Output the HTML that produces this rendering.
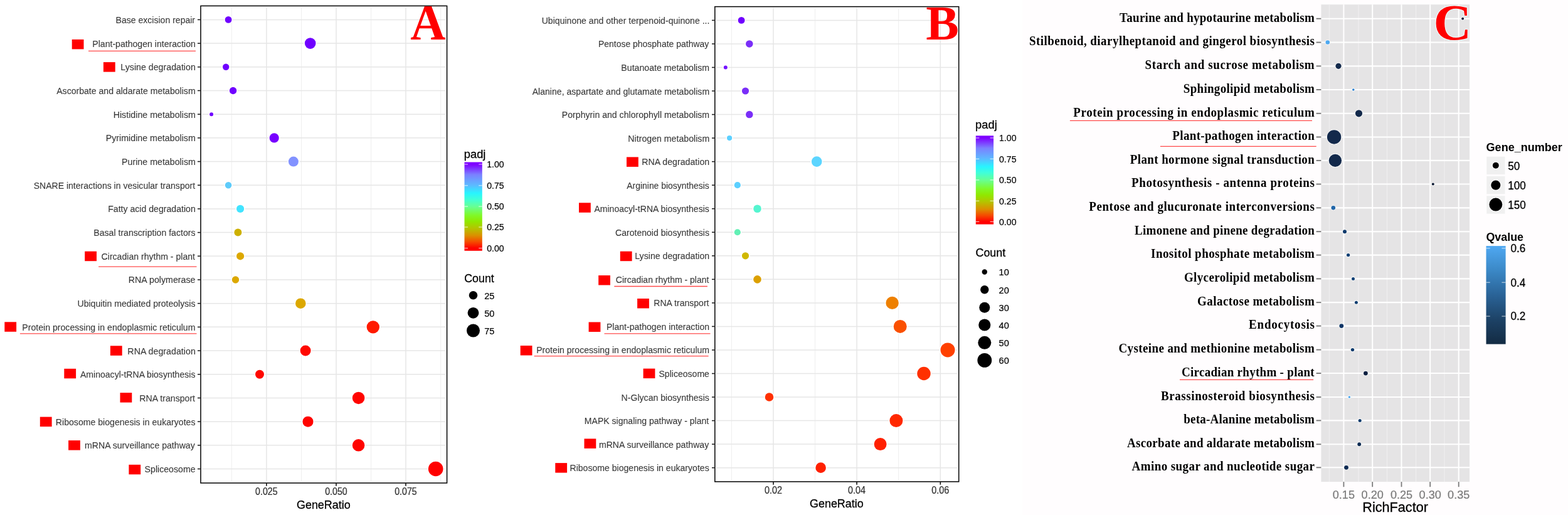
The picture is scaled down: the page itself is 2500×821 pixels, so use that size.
<!DOCTYPE html>
<html lang="en"><head><meta charset="utf-8"><title>KEGG enrichment dot plots</title>
<style>html,body{margin:0;padding:0;background:#fff;}body{width:2500px;height:821px;overflow:hidden;}svg{display:block;font-family:"Liberation Sans",sans-serif;}</style>
</head><body>
<svg width="2500" height="821" viewBox="0 0 2500 821">
<defs>
<linearGradient id="rb" x1="0" y1="1" x2="0" y2="0">
<stop offset="0.0" stop-color="#FF0000"/>
<stop offset="0.03" stop-color="#FF0000"/>
<stop offset="0.1" stop-color="#F54A00"/>
<stop offset="0.17" stop-color="#DC8E00"/>
<stop offset="0.25" stop-color="#B6C200"/>
<stop offset="0.33" stop-color="#90E800"/>
<stop offset="0.4" stop-color="#80F828"/>
<stop offset="0.5" stop-color="#66FF95"/>
<stop offset="0.58" stop-color="#40FFD8"/>
<stop offset="0.65" stop-color="#28F4FF"/>
<stop offset="0.74" stop-color="#5CBAFF"/>
<stop offset="0.86" stop-color="#7B80FF"/>
<stop offset="0.975" stop-color="#7F00FF"/>
<stop offset="1.0" stop-color="#7F00FF"/>
</linearGradient>
<linearGradient id="qv" x1="0" y1="1" x2="0" y2="0">
<stop offset="0" stop-color="#132B43"/>
<stop offset="0.25" stop-color="#1D4266"/>
<stop offset="0.5" stop-color="#2A6397"/>
<stop offset="0.75" stop-color="#3B88C6"/>
<stop offset="1" stop-color="#4FA8F2"/>
</linearGradient>
</defs>
<rect x="0" y="0" width="2500" height="821" fill="#ffffff"/>
<rect x="1630.5" y="0" width="869.5" height="821" fill="#fffdfe"/>
<g>
<rect x="320" y="9.4" width="392.6" height="760.6" fill="#fff"/>
<line x1="369.4" x2="369.4" y1="11.4" y2="768" stroke="#ececec" stroke-width="0.9"/>
<line x1="480.5" x2="480.5" y1="11.4" y2="768" stroke="#ececec" stroke-width="0.9"/>
<line x1="591.6" x2="591.6" y1="11.4" y2="768" stroke="#ececec" stroke-width="0.9"/>
<line x1="702.7" x2="702.7" y1="11.4" y2="768" stroke="#ececec" stroke-width="0.9"/>
<line x1="424.9" x2="424.9" y1="11.4" y2="768" stroke="#e6e6e6" stroke-width="1.5"/>
<line x1="536" x2="536" y1="11.4" y2="768" stroke="#e6e6e6" stroke-width="1.5"/>
<line x1="647" x2="647" y1="11.4" y2="768" stroke="#e6e6e6" stroke-width="1.5"/>
<line x1="322.3" x2="709.7" y1="31.4" y2="31.4" stroke="#e6e6e6" stroke-width="1.5"/>
<line x1="322.3" x2="709.7" y1="69.09" y2="69.09" stroke="#e6e6e6" stroke-width="1.5"/>
<line x1="322.3" x2="709.7" y1="106.78" y2="106.78" stroke="#e6e6e6" stroke-width="1.5"/>
<line x1="322.3" x2="709.7" y1="144.47" y2="144.47" stroke="#e6e6e6" stroke-width="1.5"/>
<line x1="322.3" x2="709.7" y1="182.16" y2="182.16" stroke="#e6e6e6" stroke-width="1.5"/>
<line x1="322.3" x2="709.7" y1="219.85" y2="219.85" stroke="#e6e6e6" stroke-width="1.5"/>
<line x1="322.3" x2="709.7" y1="257.54" y2="257.54" stroke="#e6e6e6" stroke-width="1.5"/>
<line x1="322.3" x2="709.7" y1="295.23" y2="295.23" stroke="#e6e6e6" stroke-width="1.5"/>
<line x1="322.3" x2="709.7" y1="332.92" y2="332.92" stroke="#e6e6e6" stroke-width="1.5"/>
<line x1="322.3" x2="709.7" y1="370.61" y2="370.61" stroke="#e6e6e6" stroke-width="1.5"/>
<line x1="322.3" x2="709.7" y1="408.3" y2="408.3" stroke="#e6e6e6" stroke-width="1.5"/>
<line x1="322.3" x2="709.7" y1="445.99" y2="445.99" stroke="#e6e6e6" stroke-width="1.5"/>
<line x1="322.3" x2="709.7" y1="483.68" y2="483.68" stroke="#e6e6e6" stroke-width="1.5"/>
<line x1="322.3" x2="709.7" y1="521.37" y2="521.37" stroke="#e6e6e6" stroke-width="1.5"/>
<line x1="322.3" x2="709.7" y1="559.06" y2="559.06" stroke="#e6e6e6" stroke-width="1.5"/>
<line x1="322.3" x2="709.7" y1="596.75" y2="596.75" stroke="#e6e6e6" stroke-width="1.5"/>
<line x1="322.3" x2="709.7" y1="634.44" y2="634.44" stroke="#e6e6e6" stroke-width="1.5"/>
<line x1="322.3" x2="709.7" y1="672.13" y2="672.13" stroke="#e6e6e6" stroke-width="1.5"/>
<line x1="322.3" x2="709.7" y1="709.82" y2="709.82" stroke="#e6e6e6" stroke-width="1.5"/>
<line x1="322.3" x2="709.7" y1="747.51" y2="747.51" stroke="#e6e6e6" stroke-width="1.5"/>
<circle cx="364.1" cy="31.4" r="5.4" fill="#7000FF" stroke="#fff" stroke-width="3.4" paint-order="stroke"/>
<circle cx="494.7" cy="69.09" r="8.8" fill="#7000FF" stroke="#fff" stroke-width="3.4" paint-order="stroke"/>
<circle cx="360.2" cy="106.78" r="5.2" fill="#7000FF" stroke="#fff" stroke-width="3.4" paint-order="stroke"/>
<circle cx="371.6" cy="144.47" r="5.7" fill="#7000FF" stroke="#fff" stroke-width="3.4" paint-order="stroke"/>
<circle cx="337.1" cy="182.16" r="3" fill="#7000FF" stroke="#fff" stroke-width="3.4" paint-order="stroke"/>
<circle cx="437.2" cy="219.85" r="7.6" fill="#7800FF" stroke="#fff" stroke-width="3.4" paint-order="stroke"/>
<circle cx="467.9" cy="257.54" r="8" fill="#8292FF" stroke="#fff" stroke-width="3.4" paint-order="stroke"/>
<circle cx="364.1" cy="295.23" r="5.3" fill="#5ECBFA" stroke="#fff" stroke-width="3.4" paint-order="stroke"/>
<circle cx="383.1" cy="332.92" r="6.1" fill="#42E4FF" stroke="#fff" stroke-width="3.4" paint-order="stroke"/>
<circle cx="379.4" cy="370.61" r="6" fill="#CDB000" stroke="#fff" stroke-width="3.4" paint-order="stroke"/>
<circle cx="383.1" cy="408.3" r="6.1" fill="#DCA800" stroke="#fff" stroke-width="3.4" paint-order="stroke"/>
<circle cx="375.5" cy="445.99" r="5.7" fill="#DCA800" stroke="#fff" stroke-width="3.4" paint-order="stroke"/>
<circle cx="479.3" cy="483.68" r="8.3" fill="#DCA800" stroke="#fff" stroke-width="3.4" paint-order="stroke"/>
<circle cx="594.8" cy="521.37" r="10.2" fill="#FF1A00" stroke="#fff" stroke-width="3.4" paint-order="stroke"/>
<circle cx="487.1" cy="559.06" r="8.5" fill="#FF0800" stroke="#fff" stroke-width="3.4" paint-order="stroke"/>
<circle cx="414" cy="596.75" r="7" fill="#FF0800" stroke="#fff" stroke-width="3.4" paint-order="stroke"/>
<circle cx="571.6" cy="634.44" r="9.8" fill="#FF0400" stroke="#fff" stroke-width="3.4" paint-order="stroke"/>
<circle cx="491" cy="672.13" r="8.5" fill="#FF0400" stroke="#fff" stroke-width="3.4" paint-order="stroke"/>
<circle cx="571.6" cy="709.82" r="9.8" fill="#FF0400" stroke="#fff" stroke-width="3.4" paint-order="stroke"/>
<circle cx="694.7" cy="747.51" r="11.8" fill="#FF0000" stroke="#fff" stroke-width="3.4" paint-order="stroke"/>
<rect x="320" y="9.4" width="392.6" height="760.6" fill="none" stroke="#000" stroke-width="1.5"/>
<line x1="315" x2="320" y1="31.4" y2="31.4" stroke="#1a1a1a" stroke-width="1.5"/>
<text transform="translate(184.57 36.9) scale(0.9252 1)" font-size="15.2" fill="#383838" stroke="#383838" stroke-width="0.1">Base excision repair</text>
<line x1="315" x2="320" y1="69.09" y2="69.09" stroke="#1a1a1a" stroke-width="1.5"/>
<text transform="translate(147.27 74.59) scale(0.9278 1)" font-size="15.2" fill="#383838" stroke="#383838" stroke-width="0.1">Plant-pathogen interaction</text>
<line x1="315" x2="320" y1="106.78" y2="106.78" stroke="#1a1a1a" stroke-width="1.5"/>
<text transform="translate(192.36 112.28) scale(0.9347 1)" font-size="15.2" fill="#383838" stroke="#383838" stroke-width="0.1">Lysine degradation</text>
<line x1="315" x2="320" y1="144.47" y2="144.47" stroke="#1a1a1a" stroke-width="1.5"/>
<text transform="translate(90.2 149.97) scale(0.9270 1)" font-size="15.2" fill="#383838" stroke="#383838" stroke-width="0.1">Ascorbate and aldarate metabolism</text>
<line x1="315" x2="320" y1="182.16" y2="182.16" stroke="#1a1a1a" stroke-width="1.5"/>
<text transform="translate(180.66 187.66) scale(0.9361 1)" font-size="15.2" fill="#383838" stroke="#383838" stroke-width="0.1">Histidine metabolism</text>
<line x1="315" x2="320" y1="219.85" y2="219.85" stroke="#1a1a1a" stroke-width="1.5"/>
<text transform="translate(168.76 225.35) scale(0.9358 1)" font-size="15.2" fill="#383838" stroke="#383838" stroke-width="0.1">Pyrimidine metabolism</text>
<line x1="315" x2="320" y1="257.54" y2="257.54" stroke="#1a1a1a" stroke-width="1.5"/>
<text transform="translate(194.06 263.04) scale(0.9359 1)" font-size="15.2" fill="#383838" stroke="#383838" stroke-width="0.1">Purine metabolism</text>
<line x1="315" x2="320" y1="295.23" y2="295.23" stroke="#1a1a1a" stroke-width="1.5"/>
<text transform="translate(53.7 300.73) scale(0.9235 1)" font-size="15.2" fill="#383838" stroke="#383838" stroke-width="0.1">SNARE interactions in vesicular transport</text>
<line x1="315" x2="320" y1="332.92" y2="332.92" stroke="#1a1a1a" stroke-width="1.5"/>
<text transform="translate(172.17 338.42) scale(0.9291 1)" font-size="15.2" fill="#383838" stroke="#383838" stroke-width="0.1">Fatty acid degradation</text>
<line x1="315" x2="320" y1="370.61" y2="370.61" stroke="#1a1a1a" stroke-width="1.5"/>
<text transform="translate(149.27 376.11) scale(0.9285 1)" font-size="15.2" fill="#383838" stroke="#383838" stroke-width="0.1">Basal transcription factors</text>
<line x1="315" x2="320" y1="408.3" y2="408.3" stroke="#1a1a1a" stroke-width="1.5"/>
<text transform="translate(161.6 413.8) scale(0.9264 1)" font-size="15.2" fill="#383838" stroke="#383838" stroke-width="0.1">Circadian rhythm - plant</text>
<line x1="315" x2="320" y1="445.99" y2="445.99" stroke="#1a1a1a" stroke-width="1.5"/>
<text transform="translate(204.76 451.49) scale(0.9369 1)" font-size="15.2" fill="#383838" stroke="#383838" stroke-width="0.1">RNA polymerase</text>
<line x1="315" x2="320" y1="483.68" y2="483.68" stroke="#1a1a1a" stroke-width="1.5"/>
<text transform="translate(123.47 489.18) scale(0.9276 1)" font-size="15.2" fill="#383838" stroke="#383838" stroke-width="0.1">Ubiquitin mediated proteolysis</text>
<line x1="315" x2="320" y1="521.37" y2="521.37" stroke="#1a1a1a" stroke-width="1.5"/>
<text transform="translate(35.27 526.87) scale(0.9303 1)" font-size="15.2" fill="#383838" stroke="#383838" stroke-width="0.1">Protein processing in endoplasmic reticulum</text>
<line x1="315" x2="320" y1="559.06" y2="559.06" stroke="#1a1a1a" stroke-width="1.5"/>
<text transform="translate(203.36 564.56) scale(0.9380 1)" font-size="15.2" fill="#383838" stroke="#383838" stroke-width="0.1">RNA degradation</text>
<line x1="315" x2="320" y1="596.75" y2="596.75" stroke="#1a1a1a" stroke-width="1.5"/>
<text transform="translate(128 602.25) scale(0.9247 1)" font-size="15.2" fill="#383838" stroke="#383838" stroke-width="0.1">Aminoacyl-tRNA biosynthesis</text>
<line x1="315" x2="320" y1="634.44" y2="634.44" stroke="#1a1a1a" stroke-width="1.5"/>
<text transform="translate(222.37 639.94) scale(0.9300 1)" font-size="15.2" fill="#383838" stroke="#383838" stroke-width="0.1">RNA transport</text>
<line x1="315" x2="320" y1="672.13" y2="672.13" stroke="#1a1a1a" stroke-width="1.5"/>
<text transform="translate(88.87 677.63) scale(0.9279 1)" font-size="15.2" fill="#383838" stroke="#383838" stroke-width="0.1">Ribosome biogenesis in eukaryotes</text>
<line x1="315" x2="320" y1="709.82" y2="709.82" stroke="#1a1a1a" stroke-width="1.5"/>
<text transform="translate(135.01 715.32) scale(0.9300 1)" font-size="15.2" fill="#383838" stroke="#383838" stroke-width="0.1">mRNA surveillance pathway</text>
<line x1="315" x2="320" y1="747.51" y2="747.51" stroke="#1a1a1a" stroke-width="1.5"/>
<text transform="translate(230.59 753.01) scale(0.9313 1)" font-size="15.2" fill="#383838" stroke="#383838" stroke-width="0.1">Spliceosome</text>
<line x1="424.9" x2="424.9" y1="770" y2="774.8" stroke="#1a1a1a" stroke-width="1.7"/>
<text transform="translate(407.08 789.4) scale(0.9043 1)" font-size="15.7" fill="#333" stroke="#333" stroke-width="0.25">0.025</text>
<line x1="536" x2="536" y1="770" y2="774.8" stroke="#1a1a1a" stroke-width="1.7"/>
<text transform="translate(518.18 789.4) scale(0.9043 1)" font-size="15.7" fill="#333" stroke="#333" stroke-width="0.25">0.050</text>
<line x1="647" x2="647" y1="770" y2="774.8" stroke="#1a1a1a" stroke-width="1.7"/>
<text transform="translate(629.18 789.4) scale(0.9043 1)" font-size="15.7" fill="#333" stroke="#333" stroke-width="0.25">0.075</text>
<text transform="translate(472.9 811.1) scale(0.9834 1)" font-size="18.3" fill="#000" stroke="#000" stroke-width="0.3">GeneRatio</text>
<rect x="114.7" y="62.9" width="18.8" height="15.5" fill="#ff0000"/>
<rect x="164.9" y="99.1" width="18.8" height="15.5" fill="#ff0000"/>
<rect x="135.2" y="400.7" width="18.8" height="15.5" fill="#ff0000"/>
<rect x="7.3" y="513.3" width="18.8" height="15.5" fill="#ff0000"/>
<rect x="175.9" y="551.3" width="18.8" height="15.5" fill="#ff0000"/>
<rect x="102.3" y="587.8" width="18.8" height="15.5" fill="#ff0000"/>
<rect x="191.5" y="626.1" width="18.8" height="15.5" fill="#ff0000"/>
<rect x="63.8" y="664.6" width="18.8" height="15.5" fill="#ff0000"/>
<rect x="109.1" y="702.1" width="18.8" height="15.5" fill="#ff0000"/>
<rect x="205.4" y="740.8" width="18.8" height="15.5" fill="#ff0000"/>
<line x1="141" x2="312" y1="81.4" y2="81.4" stroke="#ff4a4a" stroke-width="1.3"/>
<line x1="157.1" x2="313.5" y1="425.1" y2="425.1" stroke="#ff4a4a" stroke-width="1.3"/>
<line x1="31.9" x2="313.5" y1="531.8" y2="531.8" stroke="#ff4a4a" stroke-width="1.3"/>
<text transform="translate(654.22 62.6) scale(0.9609 1)" font-size="81.2" font-family="'Liberation Serif', serif" font-weight="bold" fill="#ff0000">A</text>
</g>
<text transform="translate(739.8 251.6) scale(0.9534 1)" font-size="19.2" fill="#000" stroke="#000" stroke-width="0.3">padj</text>
<rect x="740.5" y="258.5" width="28.3" height="141.3" fill="url(#rb)"/>
<line x1="740.5" x2="746" y1="261.9" y2="261.9" stroke="#fff" stroke-opacity="0.75" stroke-width="1.1"/>
<line x1="763.3" x2="768.8" y1="261.9" y2="261.9" stroke="#fff" stroke-opacity="0.75" stroke-width="1.1"/>
<text transform="translate(776.2 267.2) scale(0.9620 1)" font-size="14.7" fill="#000" stroke="#000" stroke-width="0.2">1.00</text>
<line x1="740.5" x2="746" y1="295.8" y2="295.8" stroke="#fff" stroke-opacity="0.75" stroke-width="1.1"/>
<line x1="763.3" x2="768.8" y1="295.8" y2="295.8" stroke="#fff" stroke-opacity="0.75" stroke-width="1.1"/>
<text transform="translate(776.2 301.1) scale(0.9620 1)" font-size="14.7" fill="#000" stroke="#000" stroke-width="0.2">0.75</text>
<line x1="740.5" x2="746" y1="329.1" y2="329.1" stroke="#fff" stroke-opacity="0.75" stroke-width="1.1"/>
<line x1="763.3" x2="768.8" y1="329.1" y2="329.1" stroke="#fff" stroke-opacity="0.75" stroke-width="1.1"/>
<text transform="translate(776.2 334.4) scale(0.9620 1)" font-size="14.7" fill="#000" stroke="#000" stroke-width="0.2">0.50</text>
<line x1="740.5" x2="746" y1="362" y2="362" stroke="#fff" stroke-opacity="0.75" stroke-width="1.1"/>
<line x1="763.3" x2="768.8" y1="362" y2="362" stroke="#fff" stroke-opacity="0.75" stroke-width="1.1"/>
<text transform="translate(776.2 367.3) scale(0.9620 1)" font-size="14.7" fill="#000" stroke="#000" stroke-width="0.2">0.25</text>
<line x1="740.5" x2="746" y1="395.6" y2="395.6" stroke="#fff" stroke-opacity="0.75" stroke-width="1.1"/>
<line x1="763.3" x2="768.8" y1="395.6" y2="395.6" stroke="#fff" stroke-opacity="0.75" stroke-width="1.1"/>
<text transform="translate(776.2 400.9) scale(0.9620 1)" font-size="14.7" fill="#000" stroke="#000" stroke-width="0.2">0.00</text>
<text transform="translate(740.21 449.8) scale(0.9299 1)" font-size="19.2" fill="#000" stroke="#000" stroke-width="0.3">Count</text>
<circle cx="754.5" cy="470.7" r="6.8" fill="#000"/>
<text transform="translate(772.2 476.5) scale(0.9920 1)" font-size="14.7" fill="#000" stroke="#000" stroke-width="0.2">25</text>
<circle cx="754.5" cy="498.8" r="8.9" fill="#000"/>
<text transform="translate(772.2 504.6) scale(0.9920 1)" font-size="14.7" fill="#000" stroke="#000" stroke-width="0.2">50</text>
<circle cx="754.5" cy="527" r="10.5" fill="#000"/>
<text transform="translate(772.2 532.8) scale(0.9920 1)" font-size="14.7" fill="#000" stroke="#000" stroke-width="0.2">75</text>
<g>
<rect x="1139.8" y="10.6" width="388.9" height="757.3" fill="#fff"/>
<line x1="1166.5" x2="1166.5" y1="12.6" y2="765.9" stroke="#ececec" stroke-width="0.9"/>
<line x1="1299.5" x2="1299.5" y1="12.6" y2="765.9" stroke="#ececec" stroke-width="0.9"/>
<line x1="1432.6" x2="1432.6" y1="12.6" y2="765.9" stroke="#ececec" stroke-width="0.9"/>
<line x1="1233" x2="1233" y1="12.6" y2="765.9" stroke="#e6e6e6" stroke-width="1.5"/>
<line x1="1366.1" x2="1366.1" y1="12.6" y2="765.9" stroke="#e6e6e6" stroke-width="1.5"/>
<line x1="1499.3" x2="1499.3" y1="12.6" y2="765.9" stroke="#e6e6e6" stroke-width="1.5"/>
<line x1="1142.1" x2="1525.8" y1="32.4" y2="32.4" stroke="#e6e6e6" stroke-width="1.5"/>
<line x1="1142.1" x2="1525.8" y1="69.94" y2="69.94" stroke="#e6e6e6" stroke-width="1.5"/>
<line x1="1142.1" x2="1525.8" y1="107.48" y2="107.48" stroke="#e6e6e6" stroke-width="1.5"/>
<line x1="1142.1" x2="1525.8" y1="145.02" y2="145.02" stroke="#e6e6e6" stroke-width="1.5"/>
<line x1="1142.1" x2="1525.8" y1="182.56" y2="182.56" stroke="#e6e6e6" stroke-width="1.5"/>
<line x1="1142.1" x2="1525.8" y1="220.1" y2="220.1" stroke="#e6e6e6" stroke-width="1.5"/>
<line x1="1142.1" x2="1525.8" y1="257.64" y2="257.64" stroke="#e6e6e6" stroke-width="1.5"/>
<line x1="1142.1" x2="1525.8" y1="295.18" y2="295.18" stroke="#e6e6e6" stroke-width="1.5"/>
<line x1="1142.1" x2="1525.8" y1="332.72" y2="332.72" stroke="#e6e6e6" stroke-width="1.5"/>
<line x1="1142.1" x2="1525.8" y1="370.26" y2="370.26" stroke="#e6e6e6" stroke-width="1.5"/>
<line x1="1142.1" x2="1525.8" y1="407.8" y2="407.8" stroke="#e6e6e6" stroke-width="1.5"/>
<line x1="1142.1" x2="1525.8" y1="445.34" y2="445.34" stroke="#e6e6e6" stroke-width="1.5"/>
<line x1="1142.1" x2="1525.8" y1="482.88" y2="482.88" stroke="#e6e6e6" stroke-width="1.5"/>
<line x1="1142.1" x2="1525.8" y1="520.42" y2="520.42" stroke="#e6e6e6" stroke-width="1.5"/>
<line x1="1142.1" x2="1525.8" y1="557.96" y2="557.96" stroke="#e6e6e6" stroke-width="1.5"/>
<line x1="1142.1" x2="1525.8" y1="595.5" y2="595.5" stroke="#e6e6e6" stroke-width="1.5"/>
<line x1="1142.1" x2="1525.8" y1="633.04" y2="633.04" stroke="#e6e6e6" stroke-width="1.5"/>
<line x1="1142.1" x2="1525.8" y1="670.58" y2="670.58" stroke="#e6e6e6" stroke-width="1.5"/>
<line x1="1142.1" x2="1525.8" y1="708.12" y2="708.12" stroke="#e6e6e6" stroke-width="1.5"/>
<line x1="1142.1" x2="1525.8" y1="745.66" y2="745.66" stroke="#e6e6e6" stroke-width="1.5"/>
<circle cx="1182.1" cy="32.4" r="5.4" fill="#7000FF" stroke="#fff" stroke-width="3.4" paint-order="stroke"/>
<circle cx="1194.8" cy="69.94" r="5.8" fill="#7A2EF8" stroke="#fff" stroke-width="3.4" paint-order="stroke"/>
<circle cx="1156.8" cy="107.48" r="3" fill="#7414FF" stroke="#fff" stroke-width="3.4" paint-order="stroke"/>
<circle cx="1188.5" cy="145.02" r="5.6" fill="#7A2EF8" stroke="#fff" stroke-width="3.4" paint-order="stroke"/>
<circle cx="1194.8" cy="182.56" r="5.8" fill="#7A2EF8" stroke="#fff" stroke-width="3.4" paint-order="stroke"/>
<circle cx="1163.1" cy="220.1" r="4.1" fill="#5CD0FF" stroke="#fff" stroke-width="3.4" paint-order="stroke"/>
<circle cx="1302.2" cy="257.64" r="8.3" fill="#5CD5FF" stroke="#fff" stroke-width="3.4" paint-order="stroke"/>
<circle cx="1175.8" cy="295.18" r="5.1" fill="#5CD0FF" stroke="#fff" stroke-width="3.4" paint-order="stroke"/>
<circle cx="1207.5" cy="332.72" r="6.3" fill="#55F5D0" stroke="#fff" stroke-width="3.4" paint-order="stroke"/>
<circle cx="1175.8" cy="370.26" r="5.1" fill="#62F0B5" stroke="#fff" stroke-width="3.4" paint-order="stroke"/>
<circle cx="1188.5" cy="407.8" r="5.6" fill="#D0B800" stroke="#fff" stroke-width="3.4" paint-order="stroke"/>
<circle cx="1207.5" cy="445.34" r="6.3" fill="#DCA000" stroke="#fff" stroke-width="3.4" paint-order="stroke"/>
<circle cx="1422.6" cy="482.88" r="10.2" fill="#EE8000" stroke="#fff" stroke-width="3.4" paint-order="stroke"/>
<circle cx="1435.2" cy="520.42" r="10.5" fill="#FA5000" stroke="#fff" stroke-width="3.4" paint-order="stroke"/>
<circle cx="1511" cy="557.96" r="11.5" fill="#FF4000" stroke="#fff" stroke-width="3.4" paint-order="stroke"/>
<circle cx="1473" cy="595.5" r="10.7" fill="#FF3000" stroke="#fff" stroke-width="3.4" paint-order="stroke"/>
<circle cx="1226.5" cy="633.04" r="6.8" fill="#FF3000" stroke="#fff" stroke-width="3.4" paint-order="stroke"/>
<circle cx="1428.9" cy="670.58" r="10.5" fill="#FF2800" stroke="#fff" stroke-width="3.4" paint-order="stroke"/>
<circle cx="1403.6" cy="708.12" r="10" fill="#FF2000" stroke="#fff" stroke-width="3.4" paint-order="stroke"/>
<circle cx="1308.6" cy="745.66" r="8.3" fill="#FF2000" stroke="#fff" stroke-width="3.4" paint-order="stroke"/>
<rect x="1139.8" y="10.6" width="388.9" height="757.3" fill="none" stroke="#000" stroke-width="1.5"/>
<line x1="1135" x2="1139.8" y1="32.4" y2="32.4" stroke="#1a1a1a" stroke-width="1.5"/>
<text transform="translate(863.67 37.9) scale(0.9275 1)" font-size="15.2" fill="#383838" stroke="#383838" stroke-width="0.1">Ubiquinone and other terpenoid-quinone ...</text>
<line x1="1135" x2="1139.8" y1="69.94" y2="69.94" stroke="#1a1a1a" stroke-width="1.5"/>
<text transform="translate(953.88 75.44) scale(0.9202 1)" font-size="15.2" fill="#383838" stroke="#383838" stroke-width="0.1">Pentose phosphate pathway</text>
<line x1="1135" x2="1139.8" y1="107.48" y2="107.48" stroke="#1a1a1a" stroke-width="1.5"/>
<text transform="translate(990.37 112.98) scale(0.9315 1)" font-size="15.2" fill="#383838" stroke="#383838" stroke-width="0.1">Butanoate metabolism</text>
<line x1="1135" x2="1139.8" y1="145.02" y2="145.02" stroke="#1a1a1a" stroke-width="1.5"/>
<text transform="translate(848.7 150.52) scale(0.9266 1)" font-size="15.2" fill="#383838" stroke="#383838" stroke-width="0.1">Alanine, aspartate and glutamate metabolism</text>
<line x1="1135" x2="1139.8" y1="182.56" y2="182.56" stroke="#1a1a1a" stroke-width="1.5"/>
<text transform="translate(895.87 188.06) scale(0.9289 1)" font-size="15.2" fill="#383838" stroke="#383838" stroke-width="0.1">Porphyrin and chlorophyll metabolism</text>
<line x1="1135" x2="1139.8" y1="220.1" y2="220.1" stroke="#1a1a1a" stroke-width="1.5"/>
<text transform="translate(1001.37 225.6) scale(0.9318 1)" font-size="15.2" fill="#383838" stroke="#383838" stroke-width="0.1">Nitrogen metabolism</text>
<line x1="1135" x2="1139.8" y1="257.64" y2="257.64" stroke="#1a1a1a" stroke-width="1.5"/>
<text transform="translate(1023.26 263.14) scale(0.9336 1)" font-size="15.2" fill="#383838" stroke="#383838" stroke-width="0.1">RNA degradation</text>
<line x1="1135" x2="1139.8" y1="295.18" y2="295.18" stroke="#1a1a1a" stroke-width="1.5"/>
<text transform="translate(999.3 300.68) scale(0.9166 1)" font-size="15.2" fill="#383838" stroke="#383838" stroke-width="0.1">Arginine biosynthesis</text>
<line x1="1135" x2="1139.8" y1="332.72" y2="332.72" stroke="#1a1a1a" stroke-width="1.5"/>
<text transform="translate(947.4 338.22) scale(0.9247 1)" font-size="15.2" fill="#383838" stroke="#383838" stroke-width="0.1">Aminoacyl-tRNA biosynthesis</text>
<line x1="1135" x2="1139.8" y1="370.26" y2="370.26" stroke="#1a1a1a" stroke-width="1.5"/>
<text transform="translate(981.1 375.76) scale(0.9240 1)" font-size="15.2" fill="#383838" stroke="#383838" stroke-width="0.1">Carotenoid biosynthesis</text>
<line x1="1135" x2="1139.8" y1="407.8" y2="407.8" stroke="#1a1a1a" stroke-width="1.5"/>
<text transform="translate(1012.27 413.3) scale(0.9308 1)" font-size="15.2" fill="#383838" stroke="#383838" stroke-width="0.1">Lysine degradation</text>
<line x1="1135" x2="1139.8" y1="445.34" y2="445.34" stroke="#1a1a1a" stroke-width="1.5"/>
<text transform="translate(981.8 450.84) scale(0.9214 1)" font-size="15.2" fill="#383838" stroke="#383838" stroke-width="0.1">Circadian rhythm - plant</text>
<line x1="1135" x2="1139.8" y1="482.88" y2="482.88" stroke="#1a1a1a" stroke-width="1.5"/>
<text transform="translate(1042.28 488.38) scale(0.9247 1)" font-size="15.2" fill="#383838" stroke="#383838" stroke-width="0.1">RNA transport</text>
<line x1="1135" x2="1139.8" y1="520.42" y2="520.42" stroke="#1a1a1a" stroke-width="1.5"/>
<text transform="translate(966.97 525.92) scale(0.9261 1)" font-size="15.2" fill="#383838" stroke="#383838" stroke-width="0.1">Plant-pathogen interaction</text>
<line x1="1135" x2="1139.8" y1="557.96" y2="557.96" stroke="#1a1a1a" stroke-width="1.5"/>
<text transform="translate(855.17 563.46) scale(0.9286 1)" font-size="15.2" fill="#383838" stroke="#383838" stroke-width="0.1">Protein processing in endoplasmic reticulum</text>
<line x1="1135" x2="1139.8" y1="595.5" y2="595.5" stroke="#1a1a1a" stroke-width="1.5"/>
<text transform="translate(1050.5 601) scale(0.9255 1)" font-size="15.2" fill="#383838" stroke="#383838" stroke-width="0.1">Spliceosome</text>
<line x1="1135" x2="1139.8" y1="633.04" y2="633.04" stroke="#1a1a1a" stroke-width="1.5"/>
<text transform="translate(990.57 638.54) scale(0.9283 1)" font-size="15.2" fill="#383838" stroke="#383838" stroke-width="0.1">N-Glycan biosynthesis</text>
<line x1="1135" x2="1139.8" y1="670.58" y2="670.58" stroke="#1a1a1a" stroke-width="1.5"/>
<text transform="translate(931.87 676.08) scale(0.9256 1)" font-size="15.2" fill="#383838" stroke="#383838" stroke-width="0.1">MAPK signaling pathway - plant</text>
<line x1="1135" x2="1139.8" y1="708.12" y2="708.12" stroke="#1a1a1a" stroke-width="1.5"/>
<text transform="translate(954.91 713.62) scale(0.9273 1)" font-size="15.2" fill="#383838" stroke="#383838" stroke-width="0.1">mRNA surveillance pathway</text>
<line x1="1135" x2="1139.8" y1="745.66" y2="745.66" stroke="#1a1a1a" stroke-width="1.5"/>
<text transform="translate(908.47 751.16) scale(0.9270 1)" font-size="15.2" fill="#383838" stroke="#383838" stroke-width="0.1">Ribosome biogenesis in eukaryotes</text>
<line x1="1233" x2="1233" y1="767.9" y2="772.7" stroke="#1a1a1a" stroke-width="1.7"/>
<text transform="translate(1218.97 787.4) scale(0.9212 1)" font-size="15.7" fill="#333" stroke="#333" stroke-width="0.25">0.02</text>
<line x1="1366.1" x2="1366.1" y1="767.9" y2="772.7" stroke="#1a1a1a" stroke-width="1.7"/>
<text transform="translate(1352.08 787.4) scale(0.9114 1)" font-size="15.7" fill="#333" stroke="#333" stroke-width="0.25">0.04</text>
<line x1="1499.3" x2="1499.3" y1="767.9" y2="772.7" stroke="#1a1a1a" stroke-width="1.7"/>
<text transform="translate(1485.27 787.4) scale(0.9212 1)" font-size="15.7" fill="#333" stroke="#333" stroke-width="0.25">0.06</text>
<text transform="translate(1291 809.2) scale(0.9799 1)" font-size="18.3" fill="#000" stroke="#000" stroke-width="0.3">GeneRatio</text>
<rect x="999" y="250.4" width="18.8" height="15.5" fill="#ff0000"/>
<rect x="923" y="323.3" width="18.8" height="15.5" fill="#ff0000"/>
<rect x="988.8" y="400.7" width="18.8" height="15.5" fill="#ff0000"/>
<rect x="954.2" y="439" width="18.8" height="15.5" fill="#ff0000"/>
<rect x="1016.1" y="476" width="18.8" height="15.5" fill="#ff0000"/>
<rect x="938.6" y="513.5" width="18.8" height="15.5" fill="#ff0000"/>
<rect x="829.7" y="551" width="18.8" height="15.5" fill="#ff0000"/>
<rect x="1025.6" y="587.6" width="18.8" height="15.5" fill="#ff0000"/>
<rect x="931.5" y="699.4" width="18.8" height="15.5" fill="#ff0000"/>
<rect x="885.3" y="738.1" width="18.8" height="15.5" fill="#ff0000"/>
<line x1="979.3" x2="1127.9" y1="456.5" y2="456.5" stroke="#ff4a4a" stroke-width="1.3"/>
<line x1="963.5" x2="1132.5" y1="531.8" y2="531.8" stroke="#ff4a4a" stroke-width="1.3"/>
<line x1="851.6" x2="1129.6" y1="567.6" y2="567.6" stroke="#ff4a4a" stroke-width="1.3"/>
<text transform="translate(1476.32 62.6) scale(1.0004 1)" font-size="79.0" font-family="'Liberation Serif', serif" font-weight="bold" fill="#ff0000">B</text>
</g>
<text transform="translate(1555.1 205) scale(0.9534 1)" font-size="19.2" fill="#000" stroke="#000" stroke-width="0.3">padj</text>
<rect x="1555.8" y="216.3" width="28.3" height="141.3" fill="url(#rb)"/>
<line x1="1555.8" x2="1561.3" y1="219.9" y2="219.9" stroke="#fff" stroke-opacity="0.75" stroke-width="1.1"/>
<line x1="1578.6" x2="1584.1" y1="219.9" y2="219.9" stroke="#fff" stroke-opacity="0.75" stroke-width="1.1"/>
<text transform="translate(1593 225.2) scale(0.9620 1)" font-size="14.7" fill="#000" stroke="#000" stroke-width="0.2">1.00</text>
<line x1="1555.8" x2="1561.3" y1="253.3" y2="253.3" stroke="#fff" stroke-opacity="0.75" stroke-width="1.1"/>
<line x1="1578.6" x2="1584.1" y1="253.3" y2="253.3" stroke="#fff" stroke-opacity="0.75" stroke-width="1.1"/>
<text transform="translate(1593 258.6) scale(0.9620 1)" font-size="14.7" fill="#000" stroke="#000" stroke-width="0.2">0.75</text>
<line x1="1555.8" x2="1561.3" y1="286.9" y2="286.9" stroke="#fff" stroke-opacity="0.75" stroke-width="1.1"/>
<line x1="1578.6" x2="1584.1" y1="286.9" y2="286.9" stroke="#fff" stroke-opacity="0.75" stroke-width="1.1"/>
<text transform="translate(1593 292.2) scale(0.9620 1)" font-size="14.7" fill="#000" stroke="#000" stroke-width="0.2">0.50</text>
<line x1="1555.8" x2="1561.3" y1="320.3" y2="320.3" stroke="#fff" stroke-opacity="0.75" stroke-width="1.1"/>
<line x1="1578.6" x2="1584.1" y1="320.3" y2="320.3" stroke="#fff" stroke-opacity="0.75" stroke-width="1.1"/>
<text transform="translate(1593 325.6) scale(0.9620 1)" font-size="14.7" fill="#000" stroke="#000" stroke-width="0.2">0.25</text>
<line x1="1555.8" x2="1561.3" y1="353.4" y2="353.4" stroke="#fff" stroke-opacity="0.75" stroke-width="1.1"/>
<line x1="1578.6" x2="1584.1" y1="353.4" y2="353.4" stroke="#fff" stroke-opacity="0.75" stroke-width="1.1"/>
<text transform="translate(1593 358.7) scale(0.9620 1)" font-size="14.7" fill="#000" stroke="#000" stroke-width="0.2">0.00</text>
<text transform="translate(1555.51 408.5) scale(0.9299 1)" font-size="19.2" fill="#000" stroke="#000" stroke-width="0.3">Count</text>
<circle cx="1569.8" cy="433.5" r="4.2" fill="#000"/>
<text transform="translate(1592.6 439.3) scale(0.9920 1)" font-size="14.7" fill="#000" stroke="#000" stroke-width="0.2">10</text>
<circle cx="1569.8" cy="461.8" r="6.7" fill="#000"/>
<text transform="translate(1592.6 467.6) scale(0.9920 1)" font-size="14.7" fill="#000" stroke="#000" stroke-width="0.2">20</text>
<circle cx="1569.8" cy="490.2" r="8.5" fill="#000"/>
<text transform="translate(1592.6 496) scale(0.9920 1)" font-size="14.7" fill="#000" stroke="#000" stroke-width="0.2">30</text>
<circle cx="1569.8" cy="518" r="9.6" fill="#000"/>
<text transform="translate(1592.6 523.8) scale(0.9920 1)" font-size="14.7" fill="#000" stroke="#000" stroke-width="0.2">40</text>
<circle cx="1569.8" cy="546.3" r="10.5" fill="#000"/>
<text transform="translate(1592.6 552.1) scale(0.9920 1)" font-size="14.7" fill="#000" stroke="#000" stroke-width="0.2">50</text>
<circle cx="1569.8" cy="574.4" r="11.4" fill="#000"/>
<text transform="translate(1592.6 580.2) scale(0.9920 1)" font-size="14.7" fill="#000" stroke="#000" stroke-width="0.2">60</text>
<g>
<rect x="2106.4" y="7.2" width="236.7" height="760.9" fill="#e5e4e5"/>
<line x1="2119.4" x2="2119.4" y1="7.2" y2="768.1" stroke="#eeedee" stroke-width="1.4"/>
<line x1="2165.9" x2="2165.9" y1="7.2" y2="768.1" stroke="#eeedee" stroke-width="1.4"/>
<line x1="2211.5" x2="2211.5" y1="7.2" y2="768.1" stroke="#eeedee" stroke-width="1.4"/>
<line x1="2257.5" x2="2257.5" y1="7.2" y2="768.1" stroke="#eeedee" stroke-width="1.4"/>
<line x1="2303" x2="2303" y1="7.2" y2="768.1" stroke="#eeedee" stroke-width="1.4"/>
<line x1="2142.4" x2="2142.4" y1="7.2" y2="768.1" stroke="#fff" stroke-width="2"/>
<line x1="2188.2" x2="2188.2" y1="7.2" y2="768.1" stroke="#fff" stroke-width="2"/>
<line x1="2234.5" x2="2234.5" y1="7.2" y2="768.1" stroke="#fff" stroke-width="2"/>
<line x1="2280.2" x2="2280.2" y1="7.2" y2="768.1" stroke="#fff" stroke-width="2"/>
<line x1="2325.7" x2="2325.7" y1="7.2" y2="768.1" stroke="#fff" stroke-width="2"/>
<line x1="2106.4" x2="2343.1" y1="29.75" y2="29.75" stroke="#fff" stroke-width="2.1"/>
<line x1="2106.4" x2="2343.1" y1="67.55" y2="67.55" stroke="#fff" stroke-width="2.1"/>
<line x1="2106.4" x2="2343.1" y1="105.35" y2="105.35" stroke="#fff" stroke-width="2.1"/>
<line x1="2106.4" x2="2343.1" y1="143" y2="143" stroke="#fff" stroke-width="2.1"/>
<line x1="2106.4" x2="2343.1" y1="180.8" y2="180.8" stroke="#fff" stroke-width="2.1"/>
<line x1="2106.4" x2="2343.1" y1="218.45" y2="218.45" stroke="#fff" stroke-width="2.1"/>
<line x1="2106.4" x2="2343.1" y1="255.9" y2="255.9" stroke="#fff" stroke-width="2.1"/>
<line x1="2106.4" x2="2343.1" y1="293.55" y2="293.55" stroke="#fff" stroke-width="2.1"/>
<line x1="2106.4" x2="2343.1" y1="331.35" y2="331.35" stroke="#fff" stroke-width="2.1"/>
<line x1="2106.4" x2="2343.1" y1="369.2" y2="369.2" stroke="#fff" stroke-width="2.1"/>
<line x1="2106.4" x2="2343.1" y1="406.6" y2="406.6" stroke="#fff" stroke-width="2.1"/>
<line x1="2106.4" x2="2343.1" y1="444.4" y2="444.4" stroke="#fff" stroke-width="2.1"/>
<line x1="2106.4" x2="2343.1" y1="482.15" y2="482.15" stroke="#fff" stroke-width="2.1"/>
<line x1="2106.4" x2="2343.1" y1="519.6" y2="519.6" stroke="#fff" stroke-width="2.1"/>
<line x1="2106.4" x2="2343.1" y1="557.6" y2="557.6" stroke="#fff" stroke-width="2.1"/>
<line x1="2106.4" x2="2343.1" y1="595.05" y2="595.05" stroke="#fff" stroke-width="2.1"/>
<line x1="2106.4" x2="2343.1" y1="633" y2="633" stroke="#fff" stroke-width="2.1"/>
<line x1="2106.4" x2="2343.1" y1="670.4" y2="670.4" stroke="#fff" stroke-width="2.1"/>
<line x1="2106.4" x2="2343.1" y1="708.25" y2="708.25" stroke="#fff" stroke-width="2.1"/>
<line x1="2106.4" x2="2343.1" y1="745.3" y2="745.3" stroke="#fff" stroke-width="2.1"/>
<circle cx="2332.1" cy="29.75" r="2" fill="#0d1f3d" stroke="#fff" stroke-opacity="0.8" stroke-width="1.8" paint-order="stroke"/>
<circle cx="2116.8" cy="67.55" r="3.3" fill="#4DA8F0" stroke="#fff" stroke-opacity="0.8" stroke-width="1.8" paint-order="stroke"/>
<circle cx="2134" cy="105.35" r="4.6" fill="#13294B" stroke="#fff" stroke-opacity="0.8" stroke-width="1.8" paint-order="stroke"/>
<circle cx="2157.8" cy="143" r="1.8" fill="#2A7FD0" stroke="#fff" stroke-opacity="0.8" stroke-width="1.8" paint-order="stroke"/>
<circle cx="2166.5" cy="180.8" r="5.6" fill="#13294B" stroke="#fff" stroke-opacity="0.8" stroke-width="1.8" paint-order="stroke"/>
<circle cx="2127.1" cy="218.45" r="11.2" fill="#13294B" stroke="#fff" stroke-opacity="0.8" stroke-width="1.8" paint-order="stroke"/>
<circle cx="2128.9" cy="255.9" r="10.2" fill="#13294B" stroke="#fff" stroke-opacity="0.8" stroke-width="1.8" paint-order="stroke"/>
<circle cx="2284.8" cy="293.55" r="2" fill="#0d1a33" stroke="#fff" stroke-opacity="0.8" stroke-width="1.8" paint-order="stroke"/>
<circle cx="2125.8" cy="331.35" r="3.3" fill="#2166A8" stroke="#fff" stroke-opacity="0.8" stroke-width="1.8" paint-order="stroke"/>
<circle cx="2144" cy="369.2" r="3" fill="#0E3A6C" stroke="#fff" stroke-opacity="0.8" stroke-width="1.8" paint-order="stroke"/>
<circle cx="2149.6" cy="406.6" r="2.7" fill="#0E3F74" stroke="#fff" stroke-opacity="0.8" stroke-width="1.8" paint-order="stroke"/>
<circle cx="2157.5" cy="444.4" r="2.5" fill="#0E3F74" stroke="#fff" stroke-opacity="0.8" stroke-width="1.8" paint-order="stroke"/>
<circle cx="2162.4" cy="482.15" r="2.5" fill="#0E3D70" stroke="#fff" stroke-opacity="0.8" stroke-width="1.8" paint-order="stroke"/>
<circle cx="2138.8" cy="519.6" r="3.4" fill="#0D3566" stroke="#fff" stroke-opacity="0.8" stroke-width="1.8" paint-order="stroke"/>
<circle cx="2156.5" cy="557.6" r="2.7" fill="#0E3A6C" stroke="#fff" stroke-opacity="0.8" stroke-width="1.8" paint-order="stroke"/>
<circle cx="2177.4" cy="595.05" r="3.4" fill="#0B1F40" stroke="#fff" stroke-opacity="0.8" stroke-width="1.8" paint-order="stroke"/>
<circle cx="2151.4" cy="633" r="1.8" fill="#4DA8F0" stroke="#fff" stroke-opacity="0.8" stroke-width="1.8" paint-order="stroke"/>
<circle cx="2168.2" cy="670.4" r="2.5" fill="#0E3A6C" stroke="#fff" stroke-opacity="0.8" stroke-width="1.8" paint-order="stroke"/>
<circle cx="2167.2" cy="708.25" r="2.9" fill="#0D2B52" stroke="#fff" stroke-opacity="0.8" stroke-width="1.8" paint-order="stroke"/>
<circle cx="2146.5" cy="745.3" r="3.4" fill="#0D2B52" stroke="#fff" stroke-opacity="0.8" stroke-width="1.8" paint-order="stroke"/>
<line x1="2098.6" x2="2106.4" y1="29.75" y2="29.75" stroke="#777" stroke-width="1.9"/>
<text transform="translate(1785.11 34.55) scale(0.95 1)" font-size="20" letter-spacing="0.286" font-family="'Liberation Serif', serif" font-weight="bold" fill="#000">Taurine and hypotaurine metabolism</text>
<line x1="2098.6" x2="2106.4" y1="67.55" y2="67.55" stroke="#777" stroke-width="1.9"/>
<text transform="translate(1640.95 72.35) scale(0.95 1)" font-size="20" letter-spacing="0.488" font-family="'Liberation Serif', serif" font-weight="bold" fill="#000">Stilbenoid, diarylheptanoid and gingerol biosynthesis</text>
<line x1="2098.6" x2="2106.4" y1="105.35" y2="105.35" stroke="#777" stroke-width="1.9"/>
<text transform="translate(1825.55 110.15) scale(0.95 1)" font-size="20" letter-spacing="0.681" font-family="'Liberation Serif', serif" font-weight="bold" fill="#000">Starch and sucrose metabolism</text>
<line x1="2098.6" x2="2106.4" y1="143" y2="143" stroke="#777" stroke-width="1.9"/>
<text transform="translate(1886.75 147.8) scale(0.95 1)" font-size="20" letter-spacing="0.329" font-family="'Liberation Serif', serif" font-weight="bold" fill="#000">Sphingolipid metabolism</text>
<line x1="2098.6" x2="2106.4" y1="180.8" y2="180.8" stroke="#777" stroke-width="1.9"/>
<text transform="translate(1711.32 185.6) scale(0.95 1)" font-size="20" letter-spacing="0.617" font-family="'Liberation Serif', serif" font-weight="bold" fill="#000">Protein processing in endoplasmic reticulum</text>
<line x1="2098.6" x2="2106.4" y1="218.45" y2="218.45" stroke="#777" stroke-width="1.9"/>
<text transform="translate(1869.32 223.25) scale(0.95 1)" font-size="20" letter-spacing="0.360" font-family="'Liberation Serif', serif" font-weight="bold" fill="#000">Plant-pathogen interaction</text>
<line x1="2098.6" x2="2106.4" y1="255.9" y2="255.9" stroke="#777" stroke-width="1.9"/>
<text transform="translate(1801.72 260.7) scale(0.95 1)" font-size="20" letter-spacing="0.423" font-family="'Liberation Serif', serif" font-weight="bold" fill="#000">Plant hormone signal transduction</text>
<line x1="2098.6" x2="2106.4" y1="293.55" y2="293.55" stroke="#777" stroke-width="1.9"/>
<text transform="translate(1804.12 298.35) scale(0.95 1)" font-size="20" letter-spacing="0.632" font-family="'Liberation Serif', serif" font-weight="bold" fill="#000">Photosynthesis - antenna proteins</text>
<line x1="2098.6" x2="2106.4" y1="331.35" y2="331.35" stroke="#777" stroke-width="1.9"/>
<text transform="translate(1736.22 336.15) scale(0.95 1)" font-size="20" letter-spacing="0.597" font-family="'Liberation Serif', serif" font-weight="bold" fill="#000">Pentose and glucuronate interconversions</text>
<line x1="2098.6" x2="2106.4" y1="369.2" y2="369.2" stroke="#777" stroke-width="1.9"/>
<text transform="translate(1809.02 374) scale(0.95 1)" font-size="20" letter-spacing="0.309" font-family="'Liberation Serif', serif" font-weight="bold" fill="#000">Limonene and pinene degradation</text>
<line x1="2098.6" x2="2106.4" y1="406.6" y2="406.6" stroke="#777" stroke-width="1.9"/>
<text transform="translate(1835.03 411.4) scale(0.95 1)" font-size="20" letter-spacing="0.482" font-family="'Liberation Serif', serif" font-weight="bold" fill="#000">Inositol phosphate metabolism</text>
<line x1="2098.6" x2="2106.4" y1="444.4" y2="444.4" stroke="#777" stroke-width="1.9"/>
<text transform="translate(1887.95 449.2) scale(0.95 1)" font-size="20" letter-spacing="0.390" font-family="'Liberation Serif', serif" font-weight="bold" fill="#000">Glycerolipid metabolism</text>
<line x1="2098.6" x2="2106.4" y1="482.15" y2="482.15" stroke="#777" stroke-width="1.9"/>
<text transform="translate(1908.95 486.95) scale(0.95 1)" font-size="20" letter-spacing="0.499" font-family="'Liberation Serif', serif" font-weight="bold" fill="#000">Galactose metabolism</text>
<line x1="2098.6" x2="2106.4" y1="519.6" y2="519.6" stroke="#777" stroke-width="1.9"/>
<text transform="translate(1991.12 524.4) scale(0.95 1)" font-size="20" letter-spacing="0.818" font-family="'Liberation Serif', serif" font-weight="bold" fill="#000">Endocytosis</text>
<line x1="2098.6" x2="2106.4" y1="557.6" y2="557.6" stroke="#777" stroke-width="1.9"/>
<text transform="translate(1783.45 562.4) scale(0.95 1)" font-size="20" letter-spacing="0.418" font-family="'Liberation Serif', serif" font-weight="bold" fill="#000">Cysteine and methionine metabolism</text>
<line x1="2098.6" x2="2106.4" y1="595.05" y2="595.05" stroke="#777" stroke-width="1.9"/>
<text transform="translate(1883.95 599.85) scale(0.95 1)" font-size="20" letter-spacing="0.313" font-family="'Liberation Serif', serif" font-weight="bold" fill="#000">Circadian rhythm - plant</text>
<line x1="2098.6" x2="2106.4" y1="633" y2="633" stroke="#777" stroke-width="1.9"/>
<text transform="translate(1851.02 637.8) scale(0.95 1)" font-size="20" letter-spacing="0.609" font-family="'Liberation Serif', serif" font-weight="bold" fill="#000">Brassinosteroid biosynthesis</text>
<line x1="2098.6" x2="2106.4" y1="670.4" y2="670.4" stroke="#777" stroke-width="1.9"/>
<text transform="translate(1887.21 675.2) scale(0.95 1)" font-size="20" letter-spacing="0.262" font-family="'Liberation Serif', serif" font-weight="bold" fill="#000">beta-Alanine metabolism</text>
<line x1="2098.6" x2="2106.4" y1="708.25" y2="708.25" stroke="#777" stroke-width="1.9"/>
<text transform="translate(1797.01 713.05) scale(0.95 1)" font-size="20" letter-spacing="0.335" font-family="'Liberation Serif', serif" font-weight="bold" fill="#000">Ascorbate and aldarate metabolism</text>
<line x1="2098.6" x2="2106.4" y1="745.3" y2="745.3" stroke="#777" stroke-width="1.9"/>
<text transform="translate(1804.61 750.1) scale(0.95 1)" font-size="20" letter-spacing="0.442" font-family="'Liberation Serif', serif" font-weight="bold" fill="#000">Amino sugar and nucleotide sugar</text>
<line x1="2142.4" x2="2142.4" y1="768.1" y2="776.2" stroke="#7a7a7a" stroke-width="1.8"/>
<text transform="translate(2124.78 794.6) scale(0.9513 1)" font-size="19.0" fill="#7a7a7a" stroke="#7a7a7a" stroke-width="0.25">0.15</text>
<line x1="2188.2" x2="2188.2" y1="768.1" y2="776.2" stroke="#7a7a7a" stroke-width="1.8"/>
<text transform="translate(2170.58 794.6) scale(0.9513 1)" font-size="19.0" fill="#7a7a7a" stroke="#7a7a7a" stroke-width="0.25">0.20</text>
<line x1="2234.5" x2="2234.5" y1="768.1" y2="776.2" stroke="#7a7a7a" stroke-width="1.8"/>
<text transform="translate(2216.88 794.6) scale(0.9513 1)" font-size="19.0" fill="#7a7a7a" stroke="#7a7a7a" stroke-width="0.25">0.25</text>
<line x1="2280.2" x2="2280.2" y1="768.1" y2="776.2" stroke="#7a7a7a" stroke-width="1.8"/>
<text transform="translate(2262.58 794.6) scale(0.9513 1)" font-size="19.0" fill="#7a7a7a" stroke="#7a7a7a" stroke-width="0.25">0.30</text>
<line x1="2325.7" x2="2325.7" y1="768.1" y2="776.2" stroke="#7a7a7a" stroke-width="1.8"/>
<text transform="translate(2308.08 794.6) scale(0.9513 1)" font-size="19.0" fill="#7a7a7a" stroke="#7a7a7a" stroke-width="0.25">0.35</text>
<text transform="translate(2172.27 816.3) scale(1.0172 1)" font-size="21.3" fill="#000" stroke="#000" stroke-width="0.3">RichFactor</text>
<line x1="1705.9" x2="2092" y1="192.4" y2="192.4" stroke="#ff4a4a" stroke-width="1.3"/>
<line x1="1849.9" x2="2098.7" y1="233.3" y2="233.3" stroke="#ff4a4a" stroke-width="1.3"/>
<line x1="1881" x2="2094.1" y1="605.4" y2="605.4" stroke="#ff4a4a" stroke-width="1.3"/>
<text transform="translate(2285.4 63) scale(1.0370 1)" font-size="81.0" font-family="'Liberation Serif', serif" font-weight="bold" fill="#ff0000" stroke="#eefcfc" stroke-width="2" paint-order="stroke" stroke-linejoin="round">C</text>
<text transform="translate(2369.58 240.5) scale(1.0028 1)" font-size="18.0" font-weight="bold" fill="#000">Gene_number</text>
<rect x="2370.2" y="249.7" width="29.3" height="28.4" fill="#f0f0f0"/>
<circle cx="2384.8" cy="263.7" r="5" fill="#000" stroke="#fff" stroke-width="2" paint-order="stroke"/>
<text transform="translate(2404.2 270.6) scale(0.9400 1)" font-size="18.2" fill="#000" stroke="#000" stroke-width="0.3">50</text>
<rect x="2370.2" y="280.9" width="29.3" height="28.4" fill="#f0f0f0"/>
<circle cx="2384.8" cy="295.1" r="7.6" fill="#000" stroke="#fff" stroke-width="2" paint-order="stroke"/>
<text transform="translate(2404.2 302) scale(0.9400 1)" font-size="18.2" fill="#000" stroke="#000" stroke-width="0.3">100</text>
<rect x="2370.2" y="312.3" width="29.3" height="28.4" fill="#f0f0f0"/>
<circle cx="2384.8" cy="326.1" r="10.5" fill="#000" stroke="#fff" stroke-width="2" paint-order="stroke"/>
<text transform="translate(2404.2 333) scale(0.9400 1)" font-size="18.2" fill="#000" stroke="#000" stroke-width="0.3">150</text>
<text transform="translate(2369.49 384.4) scale(1.0144 1)" font-size="17.6" font-weight="bold" fill="#000">Qvalue</text>
<rect x="2369.5" y="392.1" width="31.1" height="156.5" fill="url(#qv)"/>
<line x1="2369.5" x2="2375.7" y1="395.8" y2="395.8" stroke="#fff" stroke-opacity="0.7" stroke-width="1.1"/>
<line x1="2394.4" x2="2400.6" y1="395.8" y2="395.8" stroke="#fff" stroke-opacity="0.7" stroke-width="1.1"/>
<text transform="translate(2408.6 402.1) scale(0.9400 1)" font-size="18.2" fill="#000" stroke="#000" stroke-width="0.3">0.6</text>
<line x1="2369.5" x2="2375.7" y1="450.2" y2="450.2" stroke="#fff" stroke-opacity="0.7" stroke-width="1.1"/>
<line x1="2394.4" x2="2400.6" y1="450.2" y2="450.2" stroke="#fff" stroke-opacity="0.7" stroke-width="1.1"/>
<text transform="translate(2408.6 456.5) scale(0.9400 1)" font-size="18.2" fill="#000" stroke="#000" stroke-width="0.3">0.4</text>
<line x1="2369.5" x2="2375.7" y1="504.1" y2="504.1" stroke="#fff" stroke-opacity="0.7" stroke-width="1.1"/>
<line x1="2394.4" x2="2400.6" y1="504.1" y2="504.1" stroke="#fff" stroke-opacity="0.7" stroke-width="1.1"/>
<text transform="translate(2408.6 510.4) scale(0.9400 1)" font-size="18.2" fill="#000" stroke="#000" stroke-width="0.3">0.2</text>
</g>
</svg>
</body></html>
